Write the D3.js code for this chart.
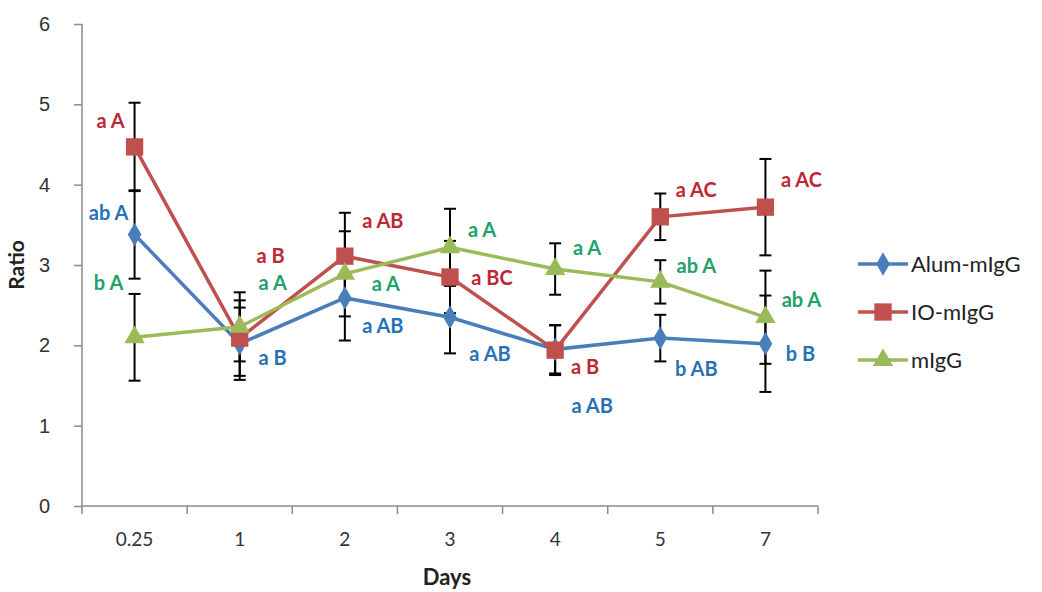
<!DOCTYPE html>
<html>
<head>
<meta charset="utf-8">
<script src="https://cdn.jsdelivr.net/npm/d3@7"></script>
<style>
  body { margin: 0; background: #fff; }
  svg { font-family: Lato, "Open Sans", sans-serif; }
  .axis path, .axis line { stroke: #8a8a8a; stroke-width: 1.5; }
  .axis text { font-size: 19px; fill: #333; }
  .err { stroke: #000; stroke-width: 2; }
  .annot { font-size: 20px; font-weight: bold; }
</style>
</head>
<body>
<div id="chart"></div>
<script>
var days = ["0.25", "1", "2", "3", "4", "5", "7"]
var yTicks = [0, 1, 2, 3, 4, 5, 6]

var alumValues = [3.38, 2.02, 2.59, 2.35, 1.95, 2.09, 2.02]
var alumErrors = [0.55, 0.45, 0.53, 0.45, 0.30, 0.29, 0.60]
var alumLabels = ["ab A", "a B", "a AB", "a AB", "a AB", "b AB", "b B"]

var ioValues = [4.47, 2.09, 3.11, 2.85, 1.94, 3.60, 3.72]
var ioErrors = [0.55, 0.47, 0.54, 0.45, 0.31, 0.29, 0.60]
var ioLabels = ["a A", "a B", "a AB", "a BC", "a B", "a AC", "a AC"]

var miggValues = [2.10, 2.23, 2.89, 3.22, 2.95, 2.79, 2.35]
var miggErrors = [0.54, 0.43, 0.53, 0.48, 0.32, 0.27, 0.58]
var miggLabels = ["b A", "a A", "a A", "a A", "a A", "ab A", "ab A"]

// label placement relative to the point (pixels), layout only
var alumLabelOffsets = [[-26, -21], [33, 14], [38, 28], [40, 37], [37, 57], [36, 31], [35, 10]]
var ioLabelOffsets = [[-24, -26], [31, -82], [38, -35], [42, 1], [30, 17], [36, -27], [36, -27]]
var miggLabelOffsets = [[-26, -54], [33, -44], [41, 10], [32, -17], [32, -21], [36, -16], [36, -17]]

var series = [
  { name: "Alum-mIgG", values: alumValues, errors: alumErrors, labels: alumLabels,
    offsets: alumLabelOffsets, color: "#4A7EBB", textColor: "#2672B5", marker: "diamond" },
  { name: "IO-mIgG", values: ioValues, errors: ioErrors, labels: ioLabels,
    offsets: ioLabelOffsets, color: "#C0504D", textColor: "#BE2734", marker: "square" },
  { name: "mIgG", values: miggValues, errors: miggErrors, labels: miggLabels,
    offsets: miggLabelOffsets, color: "#9BBB59", textColor: "#22A26A", marker: "triangle" }
]

var width = 1042, height = 592
var margin = { left: 82, right: 224, top: 24, bottom: 86 }

var svg = d3.select("#chart").append("svg")
  .attr("width", width)
  .attr("height", height)

var x = d3.scaleBand()
  .domain(days)
  .range([margin.left, width - margin.right])

var y = d3.scaleLinear()
  .domain([0, 6])
  .range([height - margin.bottom, margin.top])

// x axis: ticks sit between categories (Excel style)
var xAxisG = svg.append("g")
  .attr("class", "axis")
  .attr("transform", "translate(0," + y(0) + ")")
xAxisG.append("line")
  .attr("x1", x.range()[0]).attr("x2", x.range()[1])
  .attr("y1", 0).attr("y2", 0)
var bounds = days.map(function (d) { return x(d) }).concat([x.range()[1]])
xAxisG.selectAll("line.tick")
  .data(bounds)
  .enter().append("line")
    .attr("class", "tick")
    .attr("x1", function (d) { return d }).attr("x2", function (d) { return d })
    .attr("y1", 0).attr("y2", 8)
xAxisG.selectAll("text")
  .data(days)
  .enter().append("text")
    .attr("x", function (d) { return x(d) + x.bandwidth() / 2 })
    .attr("y", 40)
    .attr("text-anchor", "middle")
    .text(function (d) { return d })

var yAxisG = svg.append("g")
  .attr("class", "axis")
  .attr("transform", "translate(" + margin.left + ",0)")
  .call(d3.axisLeft(y).tickValues(yTicks).tickSize(8).tickPadding(24).tickFormat(d3.format("d")))
yAxisG.selectAll("text").style("font-size", "20px")
yAxisG.select(".domain").attr("d", "M0," + y(6) + "V" + y(0))

svg.append("text")
  .attr("transform", "translate(24," + y(3) + ") rotate(-90)")
  .attr("text-anchor", "middle")
  .attr("font-size", 21)
  .attr("font-weight", "bold")
  .attr("fill", "#222")
  .text("Ratio")

svg.append("text")
  .attr("x", 447)
  .attr("y", 585)
  .attr("text-anchor", "middle")
  .attr("font-size", 22)
  .attr("font-weight", "bold")
  .attr("fill", "#222")
  .text("Days")

var cx = function (i) { return x(days[i]) + x.bandwidth() / 2 }

var symbols = {
  diamond: d3.symbol().type(d3.symbolDiamond).size(160),
  square: d3.symbol().type(d3.symbolSquare).size(300),
  triangle: d3.symbol().type(d3.symbolTriangle).size(180)
}

// error bars underneath everything
var errG = svg.append("g")
series.forEach(function (s) {
  s.values.forEach(function (v, i) {
    var xi = cx(i), top = y(v + s.errors[i]), bot = y(v - s.errors[i])
    errG.append("line").attr("class", "err")
      .attr("x1", xi).attr("x2", xi).attr("y1", top).attr("y2", bot)
    errG.append("line").attr("class", "err")
      .attr("x1", xi - 6).attr("x2", xi + 6).attr("y1", top).attr("y2", top)
    errG.append("line").attr("class", "err")
      .attr("x1", xi - 6).attr("x2", xi + 6).attr("y1", bot).attr("y2", bot)
  })
})

var line = d3.line()
  .x(function (d, i) { return cx(i) })
  .y(function (d) { return y(d) })

series.forEach(function (s) {
  var g = svg.append("g")
  g.append("path")
    .attr("d", line(s.values))
    .attr("fill", "none")
    .attr("stroke", s.color)
    .attr("stroke-width", 3.5)
  g.selectAll("path.marker")
    .data(s.values)
    .enter().append("path")
      .attr("class", "marker")
      .attr("d", symbols[s.marker])
      .attr("transform", function (d, i) { return "translate(" + cx(i) + "," + y(d) + ")" })
      .attr("fill", s.color)
})

// significance letters
series.forEach(function (s) {
  svg.append("g").selectAll("text")
    .data(s.labels)
    .enter().append("text")
      .attr("class", "annot")
      .attr("x", function (d, i) { return cx(i) + s.offsets[i][0] })
      .attr("y", function (d, i) { return y(s.values[i]) + s.offsets[i][1] })
      .attr("dy", "0.35em")
      .attr("text-anchor", "middle")
      .attr("fill", s.textColor)
      .text(function (d) { return d })
})

// legend
var legend = svg.append("g")
series.forEach(function (s, i) {
  var ly = 264 + i * 48
  legend.append("line")
    .attr("x1", 858).attr("x2", 908).attr("y1", ly).attr("y2", ly)
    .attr("stroke", s.color).attr("stroke-width", 3.5)
  legend.append("path")
    .attr("d", symbols[s.marker])
    .attr("transform", "translate(883," + ly + ")")
    .attr("fill", s.color)
  legend.append("text")
    .attr("x", 911).attr("y", ly)
    .attr("dy", "0.35em")
    .attr("font-size", 22)
    .attr("fill", "#222")
    .text(s.name)
})
</script>
</body>
</html>
